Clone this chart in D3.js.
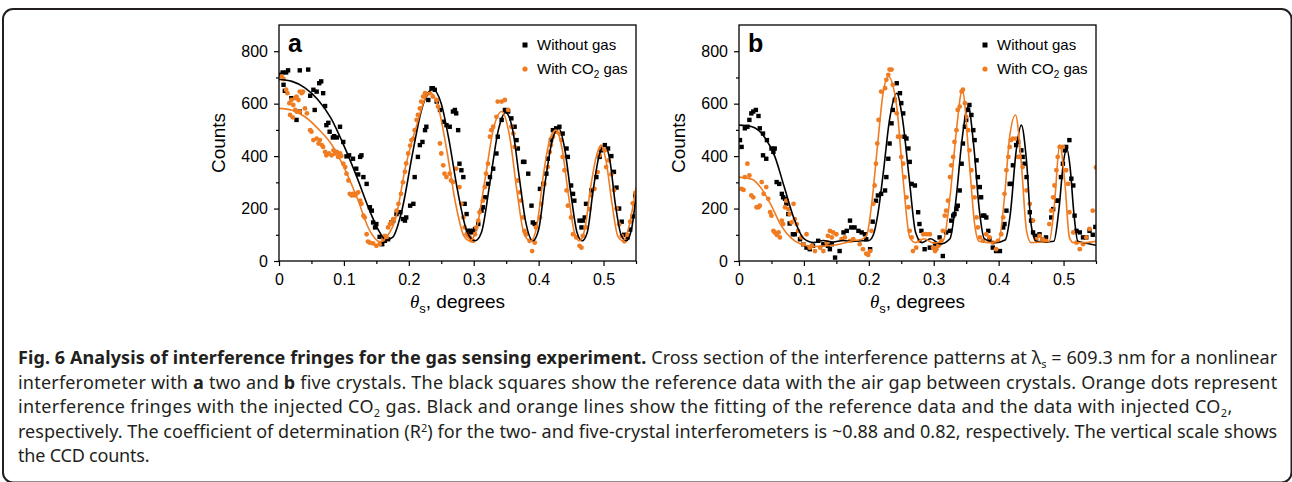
<!DOCTYPE html>
<html>
<head>
<meta charset="utf-8">
<script src="https://cdn.jsdelivr.net/npm/d3@7"></script>
<style>
body{margin:0;background:#fff;}
svg{display:block;}
</style>
</head>
<body>
<svg id="fig" width="1292" height="482"></svg>
<script>
'use strict';

// axis ticks
var xTicks = [0, 0.1, 0.2, 0.3, 0.4, 0.5];
var xTickLabels = ["0", "0.1", "0.2", "0.3", "0.4", "0.5"];
var xMinor = [0.05, 0.15, 0.25, 0.35, 0.45, 0.55];
var yTicks = [0, 200, 400, 600, 800];
var yTickLabels = ["0", "200", "400", "600", "800"];
var yMinor = [100, 300, 500, 700];
var seriesNames = ["Without gas", "With CO2 gas"];

// panel a: black squares (without gas)
var aSqTheta = [0.0015,0.0056,0.007,0.009,0.011,0.014,0.019,0.027,0.032,0.032,
0.045,0.048,0.053,0.055,0.058,0.062,0.065,0.068,0.071,0.073,
0.076,0.078,0.083,0.085,0.089,0.094,0.099,0.104,0.108,0.114,
0.119,0.122,0.125,0.127,0.130,0.135,0.140,0.143,0.145,0.148,
0.150,0.155,0.159,0.163,0.168,0.173,0.176,0.181,0.187,0.191,
0.194,0.196,0.202,0.207,0.209,0.214,0.217,0.221,0.225,0.227,
0.230,0.235,0.237,0.240,0.243,0.248,0.253,0.258,0.263,0.268,
0.271,0.273,0.276,0.278,0.281,0.284,0.286,0.289,0.291,0.294,
0.296,0.299,0.302,0.307,0.312,0.314,0.317,0.322,0.325,0.330,
0.335,0.337,0.343,0.348,0.353,0.358,0.363,0.366,0.368,0.376,
0.378,0.384,0.389,0.391,0.394,0.402,0.407,0.412,0.414,0.419,
0.422,0.427,0.432,0.437,0.443,0.445,0.450,0.453,0.455,0.463,
0.466,0.468,0.471,0.473,0.481,0.489,0.494,0.496,0.502,0.507,
0.512,0.516,0.520,0.524,0.528,0.532,0.537,0.541,0.545,0.549];
var aSqCounts = [710,719,672,649,719,727,621,538,570,727,
730,630,653,576,646,678,685,640,591,518,
527,493,471,476,471,512,454,399,403,390,
352,330,397,403,320,294,205,192,147,128,
141,92,64,77,83,147,154,179,186,160,
154,166,211,218,320,397,442,454,499,512,
614,659,659,653,608,576,531,518,512,570,
576,563,499,371,346,320,218,179,115,115,
109,115,122,141,192,205,243,294,320,352,
410,474,538,576,570,544,512,461,429,378,
378,333,211,147,141,275,294,333,390,461,
499,506,512,486,429,397,288,256,230,154,
128,154,166,218,269,320,397,422,442,429,
400,340,280,200,150,100,90,120,170,250];

// panel a: orange dots (with CO2)
var aDotTheta = [0.004,0.007,0.011,0.013,0.016,0.017,0.019,0.021,0.022,0.025,
0.025,0.027,0.027,0.030,0.032,0.032,0.035,0.037,0.040,0.043,
0.048,0.050,0.053,0.058,0.061,0.063,0.066,0.068,0.071,0.073,
0.077,0.081,0.084,0.086,0.089,0.091,0.094,0.096,0.099,0.102,
0.104,0.107,0.109,0.112,0.114,0.117,0.119,0.122,0.125,0.127,
0.130,0.132,0.135,0.137,0.140,0.145,0.150,0.155,0.161,0.163,
0.166,0.168,0.171,0.173,0.176,0.181,0.184,0.188,0.191,0.194,
0.196,0.199,0.202,0.204,0.207,0.209,0.212,0.214,0.217,0.219,
0.222,0.225,0.227,0.232,0.237,0.243,0.245,0.248,0.250,0.253,
0.255,0.258,0.263,0.265,0.268,0.273,0.278,0.281,0.284,0.286,
0.289,0.291,0.294,0.296,0.299,0.302,0.304,0.307,0.309,0.314,
0.317,0.319,0.322,0.325,0.327,0.330,0.335,0.337,0.343,0.348,
0.353,0.358,0.361,0.363,0.368,0.371,0.373,0.376,0.378,0.381,
0.386,0.390,0.394,0.396,0.402,0.404,0.409,0.414,0.417,0.419,
0.422,0.427,0.432,0.435,0.437,0.440,0.443,0.445,0.450,0.453,
0.458,0.463,0.466,0.468,0.473,0.478,0.481,0.486,0.491,0.494,
0.496,0.502,0.504,0.508,0.512,0.516,0.520,0.524,0.528,0.532,
0.537,0.541,0.545,0.549];
var aDotCounts = [704,694,653,640,602,557,614,548,595,621,
576,627,570,614,646,570,640,646,582,563,
499,493,461,467,448,461,442,435,416,403,
410,403,422,410,416,397,410,400,371,358,
333,307,256,250,256,250,256,262,230,218,
173,166,102,74,70,67,58,64,83,96,
90,128,141,147,160,192,218,256,300,340,
372,410,440,461,467,499,538,557,582,608,
627,640,634,640,627,614,589,448,410,365,
333,320,333,307,301,352,282,218,166,128,
102,96,90,79,77,102,128,154,186,230,
282,333,371,474,499,512,550,608,608,614,
576,512,486,435,307,262,230,166,115,102,
77,38,70,128,166,218,294,358,416,442,
474,493,486,461,397,346,269,211,166,102,
90,58,51,96,128,198,250,275,339,403,
429,422,358,384,330,270,200,140,95,75,
100,150,220,260];

// panel a: fitted lines
var aBlackFitTheta = [0,0.02,0.04,0.06,0.08,0.10,0.12,0.14,0.155,0.165,0.175,0.19,0.205,0.22,0.237,0.25,0.262,0.275,0.29,0.302,0.312,0.325,0.338,0.349,0.36,0.37,0.38,0.391,0.40,0.41,0.421,0.431,0.44,0.45,0.459,0.467,0.475,0.484,0.493,0.502,0.51,0.518,0.527,0.535,0.543,0.55];
var aBlackFitCounts = [692,685,660,615,545,440,320,190,110,80,90,200,400,580,655,600,460,270,110,77,110,300,500,566,500,322,150,77,120,300,460,506,430,250,110,77,110,270,400,442,380,220,100,77,120,250];
var aOrangeFitTheta = [0,0.02,0.04,0.06,0.08,0.10,0.12,0.14,0.155,0.165,0.18,0.195,0.21,0.232,0.245,0.258,0.272,0.285,0.294,0.304,0.318,0.33,0.343,0.355,0.367,0.378,0.388,0.397,0.408,0.418,0.427,0.436,0.446,0.455,0.463,0.471,0.48,0.489,0.496,0.504,0.513,0.522,0.53,0.538,0.55];
var aOrangeFitCounts = [582,575,550,505,448,358,243,115,74,90,165,360,500,643,590,430,220,95,77,120,320,500,570,480,260,100,77,130,340,470,499,430,250,110,77,120,280,400,442,380,220,95,77,120,280];

// panel b: black squares (without gas)
var bSqTheta = [0.0015,0.004,0.009,0.013,0.016,0.019,0.022,0.026,0.030,0.032,
0.037,0.037,0.042,0.043,0.050,0.053,0.055,0.058,0.062,0.066,
0.068,0.071,0.073,0.076,0.078,0.083,0.086,0.094,0.099,0.104,
0.109,0.114,0.122,0.130,0.137,0.140,0.143,0.148,0.155,0.161,
0.166,0.171,0.173,0.178,0.184,0.189,0.194,0.196,0.202,0.206,
0.211,0.214,0.219,0.225,0.227,0.230,0.232,0.235,0.237,0.240,
0.243,0.248,0.250,0.253,0.255,0.258,0.261,0.263,0.266,0.271,
0.276,0.278,0.281,0.286,0.294,0.302,0.309,0.314,0.319,0.325,
0.327,0.330,0.332,0.335,0.337,0.340,0.343,0.345,0.348,0.350,
0.353,0.355,0.358,0.361,0.363,0.366,0.368,0.371,0.373,0.376,
0.378,0.381,0.384,0.386,0.391,0.396,0.402,0.407,0.409,0.412,
0.417,0.419,0.422,0.427,0.430,0.435,0.437,0.440,0.443,0.448,
0.450,0.453,0.458,0.463,0.468,0.473,0.481,0.484,0.489,0.491,
0.496,0.499,0.502,0.504,0.509,0.512,0.515,0.517,0.520,0.525,
0.530,0.535,0.540,0.545,0.549];
var bSqCounts = [461,435,506,512,538,563,570,576,553,506,
486,403,390,461,429,416,429,301,294,256,
243,237,218,179,143,102,102,83,64,51,
45,58,77,64,58,45,64,13,38,109,
115,154,128,128,115,109,102,83,45,150,
230,250,256,269,320,390,448,525,576,614,
678,640,602,563,474,467,429,378,294,288,
186,141,115,45,51,64,90,19,109,115,
154,173,179,198,211,269,371,448,512,538,
576,595,557,499,461,384,320,282,243,173,
173,166,115,83,51,38,38,128,141,192,
294,294,365,442,454,422,397,371,320,186,
154,109,96,102,83,90,166,198,230,230,
320,371,422,435,461,314,288,173,115,109,
90,90,115,100,130];

// panel b: orange dots (with CO2)
var bDotTheta = [0.004,0.007,0.009,0.013,0.016,0.019,0.022,0.027,0.030,0.032,
0.035,0.038,0.042,0.045,0.048,0.050,0.053,0.055,0.058,0.061,
0.063,0.066,0.068,0.071,0.073,0.076,0.078,0.081,0.084,0.086,
0.089,0.091,0.096,0.099,0.104,0.109,0.112,0.117,0.125,0.130,
0.135,0.137,0.140,0.143,0.145,0.150,0.158,0.163,0.171,0.176,
0.186,0.191,0.196,0.199,0.202,0.204,0.207,0.209,0.211,0.213,
0.215,0.219,0.225,0.227,0.230,0.232,0.235,0.237,0.240,0.243,
0.245,0.248,0.250,0.253,0.255,0.258,0.261,0.263,0.266,0.268,
0.273,0.278,0.284,0.289,0.294,0.299,0.302,0.304,0.307,0.309,
0.312,0.314,0.317,0.319,0.322,0.325,0.327,0.330,0.332,0.335,
0.337,0.340,0.343,0.345,0.348,0.350,0.353,0.355,0.358,0.361,
0.363,0.366,0.368,0.371,0.376,0.381,0.386,0.391,0.396,0.399,
0.404,0.407,0.409,0.412,0.415,0.417,0.419,0.422,0.427,0.430,
0.432,0.437,0.443,0.448,0.453,0.458,0.463,0.468,0.473,0.478,
0.481,0.484,0.486,0.489,0.491,0.494,0.499,0.504,0.507,0.509,
0.515,0.520,0.525,0.530,0.535,0.540,0.545,0.550];
var bDotCounts = [275,271,320,371,326,250,243,205,205,211,
301,256,282,237,186,173,115,109,100,109,
90,154,141,205,230,198,179,147,218,160,
141,115,90,64,102,51,58,38,51,38,
70,96,115,90,109,102,83,90,77,83,
64,45,28,23,38,115,218,288,371,448,
538,646,659,691,710,730,730,672,614,563,
474,474,397,371,320,243,205,115,90,38,
51,77,102,102,102,51,38,45,58,64,
77,115,173,192,230,320,365,397,454,499,
576,589,646,653,602,550,499,422,346,282,
243,166,128,90,77,102,90,70,45,77,
102,166,256,346,397,435,461,467,467,397,
397,358,269,218,154,83,96,83,77,141,
192,243,288,346,397,435,435,346,294,186,
109,70,45,64,90,122,192,357];

// panel b: fitted lines
var bBlackFitTheta = [0,0.02,0.04,0.055,0.07,0.085,0.1,0.115,0.13,0.145,0.16,0.175,0.19,0.2,0.207,0.214,0.222,0.232,0.243,0.252,0.262,0.272,0.282,0.295,0.31,0.325,0.335,0.343,0.353,0.362,0.37,0.378,0.395,0.41,0.418,0.427,0.435,0.443,0.45,0.458,0.472,0.485,0.493,0.5,0.505,0.51,0.516,0.522,0.535,0.55];
var bBlackFitCounts = [518,512,470,400,280,160,85,70,78,72,78,75,77,78,100,180,330,540,640,540,320,110,70,85,65,85,250,450,589,430,200,85,70,80,180,420,518,380,140,75,72,75,200,380,429,360,180,75,68,60];
var bOrangeFitTheta = [0,0.02,0.035,0.05,0.065,0.08,0.095,0.115,0.135,0.155,0.175,0.19,0.197,0.205,0.213,0.222,0.23,0.243,0.253,0.263,0.272,0.285,0.3,0.315,0.325,0.335,0.344,0.355,0.363,0.37,0.385,0.4,0.409,0.417,0.426,0.435,0.443,0.45,0.465,0.478,0.486,0.494,0.502,0.509,0.515,0.53,0.55];
var bOrangeFitCounts = [320,312,275,210,135,88,65,55,58,64,77,83,100,230,430,640,704,589,307,90,70,85,68,80,243,499,653,371,141,75,70,75,243,474,557,371,115,70,72,75,218,442,300,90,70,70,75];

var ORANGE = '#f07c22';
var INK = '#231f20';
var SANS = '"Liberation Sans", Arial, Helvetica, sans-serif';

var svg = d3.select('#fig');

// figure frame (bottom edge sits on the lower border of the picture)
svg.append('rect')
    .attr('x', 3).attr('y', 9)
    .attr('width', 1288.5).attr('height', 473.5)
    .attr('rx', 10)
    .attr('fill', 'none')
    .attr('stroke', INK)
    .attr('stroke-width', 2);

function drawPanel(p){
    var top = 25, bottom = 261, w = 357;
    var x = d3.scaleLinear().domain([0, 0.55]).range([p.left, p.left + w]);
    var y = d3.scaleLinear().domain([0, 900]).range([bottom, top]);
    var g = svg.append('g');

    svg.append('clipPath').attr('id', 'clip' + p.letter)
      .append('rect')
        .attr('x', p.left).attr('y', top)
        .attr('width', w).attr('height', bottom - top);
    var plot = g.append('g').attr('clip-path', 'url(#clip' + p.letter + ')');

    plot.selectAll('rect.sq')
        .data(d3.range(p.sqTheta.length))
      .enter().append('rect')
        .attr('class', 'sq')
        .attr('x', function(i){ return x(p.sqTheta[i]) - 2.2; })
        .attr('y', function(i){ return y(p.sqCounts[i]) - 2.2; })
        .attr('width', 4.4).attr('height', 4.4)
        .attr('fill', '#000');
    plot.selectAll('circle.dot')
        .data(d3.range(p.dotTheta.length))
      .enter().append('circle')
        .attr('class', 'dot')
        .attr('cx', function(i){ return x(p.dotTheta[i]); })
        .attr('cy', function(i){ return y(p.dotCounts[i]); })
        .attr('r', 2.4)
        .attr('fill', ORANGE);

    var line = d3.line()
        .x(function(d){ return x(d[0]); })
        .y(function(d){ return y(d[1]); })
        .curve(d3.curveMonotoneX);
    plot.append('path')
        .attr('d', line(d3.zip(p.blackFitTheta, p.blackFitCounts)))
        .attr('fill', 'none').attr('stroke', '#000').attr('stroke-width', 1.6);
    plot.append('path')
        .attr('d', line(d3.zip(p.orangeFitTheta, p.orangeFitCounts)))
        .attr('fill', 'none').attr('stroke', ORANGE).attr('stroke-width', 1.6);

    // axes
    var xAxis = g.append('g').attr('transform', 'translate(0,' + bottom + ')')
        .call(d3.axisBottom(x).tickValues(xTicks).tickSize(5).tickPadding(8)
            .tickFormat(function(d, i){ return xTickLabels[i]; }));
    var xAxisMinor = g.append('g').attr('transform', 'translate(0,' + bottom + ')')
        .call(d3.axisBottom(x).tickValues(xMinor).tickSize(3).tickFormat(''));
    var yAxis = g.append('g').attr('transform', 'translate(' + p.left + ',0)')
        .call(d3.axisLeft(y).tickValues(yTicks).tickSize(5).tickPadding(6)
            .tickFormat(function(d, i){ return yTickLabels[i]; }));
    var yAxisMinor = g.append('g').attr('transform', 'translate(' + p.left + ',0)')
        .call(d3.axisLeft(y).tickValues(yMinor).tickSize(3).tickFormat(''));
    [xAxis, xAxisMinor, yAxis, yAxisMinor].forEach(function(a){
        a.select('.domain').remove();
        a.selectAll('line').attr('stroke', '#000').attr('stroke-width', 1.2);
        a.selectAll('text')
            .attr('fill', '#000')
            .style('font-family', SANS)
            .style('font-size', '16px');
    });

    // plot frame
    g.append('rect')
        .attr('x', p.left).attr('y', top)
        .attr('width', w).attr('height', bottom - top)
        .attr('fill', 'none').attr('stroke', '#000').attr('stroke-width', 1.3);

    // axis titles
    g.append('text')
        .attr('transform', 'translate(' + (p.left - 61) + ',' + ((top + bottom) / 2) + ') rotate(-90)')
        .attr('text-anchor', 'middle')
        .attr('dy', '0.35em')
        .style('font-family', SANS).style('font-size', '19px')
        .text('Counts');
    var xl = g.append('text')
        .attr('x', p.left + w / 2).attr('y', 308)
        .attr('text-anchor', 'middle')
        .style('font-family', SANS).style('font-size', '19px');
    xl.append('tspan').style('font-family', '"Liberation Serif", "Times New Roman", serif')
        .style('font-style', 'italic').text('\u03b8');
    xl.append('tspan').attr('dy', 5).style('font-size', '13px').text('s');
    xl.append('tspan').attr('dy', -5).text(', degrees');

    // panel letter
    g.append('text')
        .attr('x', p.left + 9).attr('y', 52)
        .style('font-family', SANS).style('font-size', '25px').style('font-weight', 'bold')
        .text(p.letter);

    // legend
    var lx = p.left + w - 111;
    g.append('rect').attr('x', lx - 2.5).attr('y', 45 - 2.5).attr('width', 5).attr('height', 5).attr('fill', '#000');
    g.append('text').attr('x', lx + 12).attr('y', 45).attr('dy', '0.35em')
        .style('font-family', SANS).style('font-size', '15px')
        .text(seriesNames[0]);
    g.append('circle').attr('cx', lx).attr('cy', 69).attr('r', 2.6).attr('fill', ORANGE);
    var lt = g.append('text').attr('x', lx + 12).attr('y', 69).attr('dy', '0.35em')
        .style('font-family', SANS).style('font-size', '15px');
    lt.append('tspan').text('With CO');
    lt.append('tspan').attr('dy', 4).style('font-size', '10px').text('2');
    lt.append('tspan').attr('dy', -4).text(' gas');
}

drawPanel({letter: 'a', left: 279,
    sqTheta: aSqTheta, sqCounts: aSqCounts, dotTheta: aDotTheta, dotCounts: aDotCounts,
    blackFitTheta: aBlackFitTheta, blackFitCounts: aBlackFitCounts,
    orangeFitTheta: aOrangeFitTheta, orangeFitCounts: aOrangeFitCounts});
drawPanel({letter: 'b', left: 739,
    sqTheta: bSqTheta, sqCounts: bSqCounts, dotTheta: bDotTheta, dotCounts: bDotCounts,
    blackFitTheta: bBlackFitTheta, blackFitCounts: bBlackFitCounts,
    orangeFitTheta: bOrangeFitTheta, orangeFitCounts: bOrangeFitCounts});

// caption: [text, style] segments, b = bold, sub / sup = small shifted
var caption = [
    {width: 1259, parts: [["Fig. 6 Analysis of interference fringes for the gas sensing experiment.", "b"],
        [" Cross section of the interference patterns at \u03bb", ""], ["s", "sub"], [" = 609.3 nm for a nonlinear", ""]]},
    {width: 1259, parts: [["interferometer with ", ""], ["a", "b"], [" two and ", ""], ["b", "b"],
        [" five crystals. The black squares show the reference data with the air gap between crystals. Orange dots represent", ""]]},
    {width: 1214, parts: [["interference fringes with the injected CO", ""], ["2", "sub"],
        [" gas. Black and orange lines show the fitting of the reference data and the data with injected CO", ""], ["2", "sub"], [",", ""]]},
    {width: 1259, parts: [["respectively. The coefficient of determination (R", ""], ["2", "sup"],
        [") for the two- and five-crystal interferometers is ~0.88 and 0.82, respectively. The vertical scale shows", ""]]},
    {width: null, parts: [["the CCD counts.", ""]]}
];

var capFont = 16;
var capG = svg.append('g')
    .style('font-family', '"Noto Sans", "Open Sans", sans-serif')
    .style('font-size', capFont + 'px')
    .style('letter-spacing', '-0.2px')
    .attr('fill', INK);
var capTexts = [];
caption.forEach(function(line, li){
    var t = capG.append('text').attr('x', 18).attr('y', 364 + li * 24.5);
    var shift = 0;
    line.parts.forEach(function(part){
        var s = t.append('tspan').text(part[0]);
        var target = part[1] === 'sub' ? 4 : (part[1] === 'sup' ? -6 : 0);
        if (target !== shift){ s.attr('dy', target - shift); shift = target; }
        if (part[1] === 'b') s.style('font-weight', 'bold');
        if (part[1] === 'sub' || part[1] === 'sup') s.style('font-size', '11px');
    });
    capTexts.push(t);
});
// grow the caption font until the justified lines are nearly full, then justify the rest
var ratio = d3.min(caption, function(line, li){
    return line.width ? line.width / capTexts[li].node().getComputedTextLength() : Infinity;
});
capFont = Math.min(capFont * ratio * 0.99, 18);
capG.style('font-size', capFont + 'px');
caption.forEach(function(line, li){
    if (line.width) capTexts[li].attr('textLength', line.width).attr('lengthAdjust', 'spacing');
});
</script>
</body>
</html>
